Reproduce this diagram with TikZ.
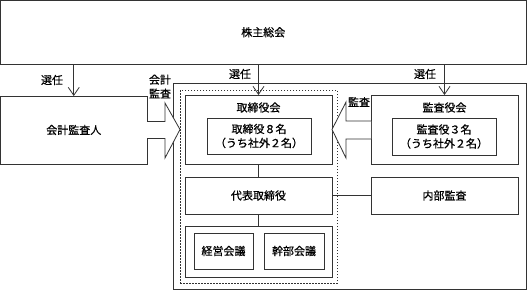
\documentclass[tikz,border=0pt]{standalone}
\usepackage{fontspec}
\setmainfont{Noto Sans CJK JP}[UprightFeatures={FakeBold=0.6}]
\usetikzlibrary{arrows.meta,calc}
\begin{document}
\begin{tikzpicture}[x=1pt,y=-1pt,
  ln/.style={draw=black!80, line width=0.8pt},
  box/.style={ln, fill=white, inner sep=0pt, outer sep=0pt, anchor=north west},
  txt/.style={font=\fontsize{11pt}{14pt}\selectfont, inner sep=0pt, align=center},
  sel/.style={ln, -{Straight Barb[length=8pt,width=11pt]}},
  blk/.style={ln, fill=white, line join=miter}
]
\useasboundingbox (0,0) rectangle (530,292);
% shareholders
\node[box, minimum width=525.5pt, minimum height=63.5pt] (soukai) at (0.5,0.5) {};
\node[txt] (soukaitxt) at (soukai.center) {株主総会};
% auditor
\node[box, minimum width=146.5pt, minimum height=68pt] (kaikei) at (0.5,96) {};
\node[txt] (kaikeitxt) at (kaikei.center) {会計監査人};
% company
\node[box, minimum width=353pt, minimum height=206pt] (company) at (173,83) {};
\node[draw=black!80, line width=0.6pt, dash pattern=on 1.5pt off 1.5pt, inner sep=0pt, outer sep=0pt, anchor=north west, minimum width=157pt, minimum height=193pt] (dash) at (180,90) {};
% board
\node[box, minimum width=147pt, minimum height=69pt] (torikai) at (185,95) {};
\node[txt] (torikaitxt) at (258.5,107.5) {取締役会};
\node[box, minimum width=104pt, minimum height=36pt] (tori) at (207,118) {};
\node[txt] (toritxt) at (tori.center) {取締役８名\\（うち社外２名）};
% representative
\node[box, minimum width=147pt, minimum height=37pt] (daihyo) at (185,177) {};
\node[txt] (daihyotxt) at (daihyo.center) {代表取締役};
% meetings
\node[box, minimum width=147pt, minimum height=51pt] (mtg) at (185,226) {};
\node[box, minimum width=59pt, minimum height=36pt] (keiei) at (194,233) {};
\node[txt] (keieitxt) at (keiei.center) {経営会議};
\node[box, minimum width=60pt, minimum height=36pt] (kanbu) at (264,233) {};
\node[txt] (kanbutxt) at (kanbu.center) {幹部会議};
% audit board
\node[box, minimum width=147pt, minimum height=69pt] (kansa) at (371,95) {};
\node[txt] (kansatxt) at (444.5,107.5) {監査役会};
\node[box, minimum width=104pt, minimum height=37pt] (kansayaku) at (392,118) {};
\node[txt] (kansayakutxt) at (kansayaku.center) {監査役３名\\（うち社外２名）};
% internal audit
\node[box, minimum width=147pt, minimum height=37pt] (naibu) at (371,177) {};
\node[txt] (naibutxt) at (naibu.center) {内部監査};
% connectors
\draw[ln] (torikai.south) -- (daihyo.north);
\draw[ln] (daihyo.south) -- (mtg.north);
\draw[ln] (daihyo.east) -- (naibu.west);
\draw[sel] (soukai.south -| kaikei.north) -- (kaikei.north);
\draw[sel] (soukai.south -| torikai.north) -- (torikai.north);
\draw[sel] (soukai.south -| kansa.north) -- (kansa.north);
\node[txt] (sen1) at (52,80) {選任};
\node[txt] (sen2) at (240,74) {選任};
\node[txt] (sen3) at (425,74) {選任};
% block arrows
\draw[blk] ($(kaikei.east)+(0,-8.5)$) -- ($(kaikei.east)+(18,-8.5)$) -- ($(kaikei.east)+(18,-27)$)
  -- ($(torikai.west)+(-5,0)$) -- ($(kaikei.east)+(18,28)$) -- ($(kaikei.east)+(18,8.5)$) -- ($(kaikei.east)+(0,8.5)$);
\draw[blk] ($(kansa.west)+(0,-8.5)$) -- ($(kansa.west)+(-25,-8.5)$) -- ($(kansa.west)+(-25,-27.5)$)
  -- (torikai.east) -- ($(kansa.west)+(-25,28.5)$) -- ($(kansa.west)+(-25,9.5)$) -- ($(kansa.west)+(0,9.5)$);
\node[txt] (kaikeikansa) at (160,86.5) {会計\\監査};
\node[txt] (kansalbl) at (359,102) {監査};
\end{tikzpicture}
\end{document}
